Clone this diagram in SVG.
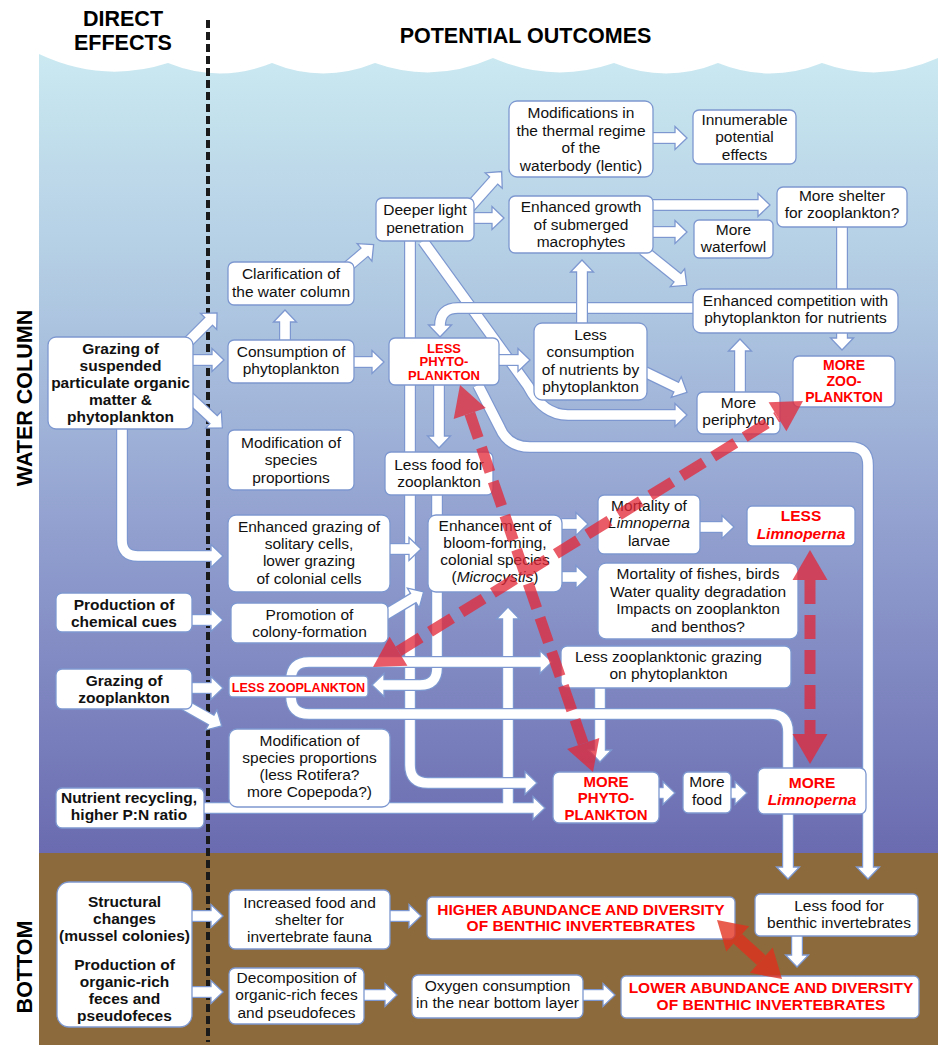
<svg xmlns="http://www.w3.org/2000/svg" width="938" height="1045" viewBox="0 0 938 1045">
<defs>
<linearGradient id="water" x1="0" y1="55" x2="0" y2="853" gradientUnits="userSpaceOnUse">
<stop offset="0" stop-color="#cae9f1"/>
<stop offset="0.3" stop-color="#b0c9e2"/>
<stop offset="0.6" stop-color="#919fcf"/>
<stop offset="1" stop-color="#6a6bb0"/>
</linearGradient>
<marker id="ah" markerUnits="userSpaceOnUse" viewBox="-3 -14 19 28" markerWidth="19" markerHeight="28" refX="2" refY="0" orient="auto">
<path d="M0,-11.5 L12,0 L0,11.5Z" fill="#fff" stroke="#7d98d0" stroke-width="1.3"/>
</marker>
<style>
.bx{fill:#fff;stroke:#7d98d0;stroke-width:1.3}
text{font-family:"Liberation Sans",Arial,sans-serif;font-size:15.5px;text-anchor:middle;fill:#111}
.b{font-weight:bold}
.r{fill:#ff0000;font-weight:bold}
.h{font-weight:bold;font-size:21.5px;fill:#000}
.o{fill:none;stroke:#7d98d0;stroke-width:12;stroke-linejoin:round;marker-end:url(#ah)}
.l{fill:none;stroke:#7d98d0;stroke-width:12;stroke-linejoin:round}
.i{fill:none;stroke:#fff;stroke-width:9.6;stroke-linejoin:round}
</style>
</defs>

<g id="background">
<rect x="0" y="0" width="938" height="1045" fill="#fff"/>
<path d="M39,54 Q103,84 168,63 Q220,84 272,63 Q323,84 375,63 Q434,84 493,58 Q553,84 614,63 Q666,84 718,63 Q770,84 822,63 Q880,84 938,58 V853 H39 Z" fill="url(#water)"/>
<rect x="39" y="853" width="899" height="192" fill="#8c6a3b"/>
<line x1="208" y1="20" x2="208" y2="1042" stroke="#1a1a1a" stroke-width="4" stroke-dasharray="8 4"/>
</g>

<g id="labels">
<text class="h" x="123" y="26">DIRECT</text>
<text class="h" x="123" y="50">EFFECTS</text>
<text class="h" x="525.5" y="43">POTENTIAL OUTCOMES</text>
<text class="h" transform="translate(32,398) rotate(-90)">WATER COLUMN</text>
<text class="h" transform="translate(32,967) rotate(-90)">BOTTOM</text>
</g>

<g id="connectors">
<path class="o" d="M508,808 V617"/>
<path class="o" d="M204,808 H535"/>
<path class="i" d="M508,808 V617"/>
<path class="i" d="M204,808 H535"/>
<path class="o" d="M410,241 V765 Q410,783 428,783 H527"/><path class="i" d="M410,241 V765 Q410,783 428,783 H527"/>
<path class="o" d="M437,495 V668 Q437,685 420,685 H382"/><path class="i" d="M437,495 V668 Q437,685 420,685 H382"/>
<path class="o" d="M478,385 L500,428 Q508,447 530,447 H850 Q868,447 868,465 V869"/><path class="i" d="M478,385 L500,428 Q508,447 530,447 H850 Q868,447 868,465 V869"/>
<path class="o" d="M423,241 L528,386 Q543,415 568,415 H677"/><path class="i" d="M423,241 L528,386 Q543,415 568,415 H677"/>
<path class="o" d="M693,308 H458 Q440,308 440,326 V327"/><path class="i" d="M693,308 H458 Q440,308 440,326 V327"/>
<path class="o" d="M582,323 V270"/><path class="i" d="M582,323 V270"/>
<path class="o" d="M499,360 H520"/><path class="i" d="M499,360 H520"/>
<path class="o" d="M600,688 V752"/><path class="i" d="M600,688 V752"/>
<path class="o" d="M291,690 V680 Q291,662 309,662 H542"/>
<path class="o" d="M291,680 V696 Q291,714 309,714 H770 Q788,714 788,732 V869"/>
<path class="i" d="M291,690 V680 Q291,662 309,662 H542"/>
<path class="i" d="M291,680 V696 Q291,714 309,714 H770 Q788,714 788,732 V869"/>
<path class="o" d="M186,344 L210,320"/><path class="i" d="M186,344 L210,320"/>
<path class="o" d="M193,360 H214"/><path class="i" d="M193,360 H214"/>
<path class="o" d="M188,396 L215,421"/><path class="i" d="M188,396 L215,421"/>
<path class="o" d="M122,429 V540 Q122,556 138,556 H213"/><path class="i" d="M122,429 V540 Q122,556 138,556 H213"/>
<path class="o" d="M285,340 V320"/><path class="i" d="M285,340 V320"/>
<path class="o" d="M346,268 L366,251"/><path class="i" d="M346,268 L366,251"/>
<path class="o" d="M354,362 H374"/><path class="i" d="M354,362 H374"/>
<path class="o" d="M470,207 L495,179"/><path class="i" d="M470,207 L495,179"/>
<path class="o" d="M474,218 H494"/><path class="i" d="M474,218 H494"/>
<path class="o" d="M653,205 H760"/><path class="i" d="M653,205 H760"/>
<path class="o" d="M653,232 H677"/><path class="i" d="M653,232 H677"/>
<path class="o" d="M643,250 L679,279"/><path class="i" d="M643,250 L679,279"/>
<path class="l" d="M842,227 V295"/><path class="i" d="M842,227 V295"/>
<path class="o" d="M842,333 V340"/><path class="i" d="M842,333 V340"/>
<path class="o" d="M740,392 V349"/><path class="i" d="M740,392 V349"/>
<path class="o" d="M645,372 L678,388"/><path class="i" d="M645,372 L678,388"/>
<path class="o" d="M653,138 H677"/><path class="i" d="M653,138 H677"/>
<path class="o" d="M439,385 V438"/><path class="i" d="M439,385 V438"/>
<path class="o" d="M390,549 H411"/><path class="i" d="M390,549 H411"/>
<path class="o" d="M385,615 L415,597"/><path class="i" d="M385,615 L415,597"/>
<path class="o" d="M562,524 H578"/><path class="i" d="M562,524 H578"/>
<path class="o" d="M562,577 H578"/><path class="i" d="M562,577 H578"/>
<path class="o" d="M700,527 H724"/><path class="i" d="M700,527 H724"/>
<path class="o" d="M192,620 H213"/><path class="i" d="M192,620 H213"/>
<path class="o" d="M192,688 H213"/><path class="i" d="M192,688 H213"/>
<path class="o" d="M183,704 L213,721"/><path class="i" d="M183,704 L213,721"/>
<path class="o" d="M659,793 H665"/><path class="i" d="M659,793 H665"/>
<path class="o" d="M731,793 H737"/><path class="i" d="M731,793 H737"/>
<path class="o" d="M192,916 H213"/><path class="i" d="M192,916 H213"/>
<path class="o" d="M192,992 H213"/><path class="i" d="M192,992 H213"/>
<path class="o" d="M390,916 H411"/><path class="i" d="M390,916 H411"/>
<path class="o" d="M364,995 H387"/><path class="i" d="M364,995 H387"/>
<path class="o" d="M583,995 H605"/><path class="i" d="M583,995 H605"/>
<path class="o" d="M797,936 V957"/><path class="i" d="M797,936 V957"/>
</g>

<g id="nodes">
<g id="n-grazing-spm"><rect class="bx" x="48" y="337" width="145" height="92" rx="8"/><text class="b"><tspan x="120.5" y="354">Grazing of</tspan><tspan x="120.5" y="371">suspended</tspan><tspan x="120.5" y="388">particulate organic</tspan><tspan x="120.5" y="405">matter &amp;</tspan><tspan x="120.5" y="422">phytoplankton</tspan></text></g>
<g id="n-chem-cues"><rect class="bx" x="56" y="593" width="136" height="39" rx="6"/><text class="b"><tspan x="124" y="610">Production of</tspan><tspan x="124" y="627">chemical cues</tspan></text></g>
<g id="n-grazing-zoo"><rect class="bx" x="56" y="669" width="136" height="40" rx="6"/><text class="b"><tspan x="124" y="686">Grazing of</tspan><tspan x="124" y="703">zooplankton</tspan></text></g>
<g id="n-nutrient"><rect class="bx" x="56" y="788" width="148" height="40" rx="6"/><text class="b"><tspan x="129" y="803">Nutrient recycling,</tspan><tspan x="129" y="820">higher P:N ratio</tspan></text></g>
<g id="n-structural"><rect class="bx" x="57" y="882" width="135" height="145" rx="12"/><text class="b"><tspan x="124.5" y="907">Structural</tspan><tspan x="124.5" y="924">changes</tspan><tspan x="124.5" y="941">(mussel colonies)</tspan><tspan x="124.5" y="970">Production of</tspan><tspan x="124.5" y="987">organic-rich</tspan><tspan x="124.5" y="1004">feces and</tspan><tspan x="124.5" y="1021">pseudofeces</tspan></text></g>

<g id="n-clarification"><rect class="bx" x="228" y="262" width="126" height="43" rx="6"/><text><tspan x="291" y="279">Clarification of</tspan><tspan x="291" y="297">the water column</tspan></text></g>
<g id="n-consumption"><rect class="bx" x="228" y="340" width="126" height="43" rx="6"/><text><tspan x="291" y="357">Consumption of</tspan><tspan x="291" y="374">phytoplankton</tspan></text></g>
<g id="n-modification"><rect class="bx" x="228" y="430" width="126" height="60" rx="6"/><text><tspan x="291" y="448">Modification of</tspan><tspan x="291" y="465">species</tspan><tspan x="291" y="483">proportions</tspan></text></g>
<g id="n-enh-grazing"><rect class="bx" x="228" y="515" width="162" height="77" rx="8"/><text><tspan x="309" y="532">Enhanced grazing of</tspan><tspan x="309" y="549">solitary cells,</tspan><tspan x="309" y="566">lower grazing</tspan><tspan x="309" y="584">of colonial cells</tspan></text></g>
<g id="n-promotion"><rect class="bx" x="231" y="603" width="157" height="40" rx="6"/><text><tspan x="309.5" y="620">Promotion of</tspan><tspan x="309.5" y="637">colony-formation</tspan></text></g>
<g id="n-less-zoo"><rect class="bx" x="229" y="676" width="139" height="21" rx="4"/><text class="r" x="298.5" y="692" style="font-size:12.6px">LESS ZOOPLANKTON</text></g>
<g id="n-mod-species"><rect class="bx" x="229" y="729" width="161" height="78" rx="8"/><text><tspan x="309.5" y="746">Modification of</tspan><tspan x="309.5" y="763">species proportions</tspan><tspan x="309.5" y="780">(less Rotifera?</tspan><tspan x="309.5" y="797">more Copepoda?)</tspan></text></g>
<g id="n-increased-food"><rect class="bx" x="229" y="890" width="161" height="59" rx="6"/><text><tspan x="309.5" y="908">Increased food and</tspan><tspan x="309.5" y="925">shelter for</tspan><tspan x="309.5" y="942">invertebrate fauna</tspan></text></g>
<g id="n-decomposition"><rect class="bx" x="229" y="968" width="135" height="56" rx="6"/><text><tspan x="296.5" y="983">Decomposition of</tspan><tspan x="296.5" y="1000">organic-rich feces</tspan><tspan x="296.5" y="1018">and pseudofeces</tspan></text></g>

<g id="n-deeper-light"><rect class="bx" x="376" y="198" width="98" height="43" rx="6"/><text><tspan x="425" y="215">Deeper light</tspan><tspan x="425" y="233">penetration</tspan></text></g>
<g id="n-less-phyto"><rect class="bx" x="389" y="338" width="110" height="47" rx="6"/><text class="r" style="font-size:13px"><tspan x="444" y="353">LESS</tspan><tspan x="444" y="366">PHYTO-</tspan><tspan x="444" y="380">PLANKTON</tspan></text></g>
<g id="n-less-food-zoo"><rect class="bx" x="385" y="452" width="108" height="43" rx="6"/><text><tspan x="439" y="470">Less food for</tspan><tspan x="439" y="487">zooplankton</tspan></text></g>
<g id="n-bloom"><rect class="bx" x="428" y="515" width="134" height="77" rx="8"/><text><tspan x="495" y="531">Enhancement of</tspan><tspan x="495" y="548">bloom-forming,</tspan><tspan x="495" y="565">colonial species</tspan><tspan x="495" y="582">(<tspan font-style="italic">Microcystis</tspan>)</tspan></text></g>
<g id="n-less-zoo-grazing"><rect class="bx" x="561" y="646" width="230" height="42" rx="6"/><text><tspan x="668.5" y="662">Less zooplanktonic grazing</tspan><tspan x="668.5" y="679">on phytoplankton</tspan></text></g>
<g id="n-more-phyto"><rect class="bx" x="553" y="772" width="106" height="51" rx="6"/><text class="r" style="font-size:15px"><tspan x="606" y="787">MORE</tspan><tspan x="606" y="803">PHYTO-</tspan><tspan x="606" y="820">PLANKTON</tspan></text></g>
<g id="n-more-food"><rect class="bx" x="683" y="772" width="48" height="41" rx="5"/><text><tspan x="707" y="787">More</tspan><tspan x="707" y="805">food</tspan></text></g>
<g id="n-more-limno"><rect class="bx" x="758" y="768" width="108" height="46" rx="6"/><text class="r"><tspan x="812" y="788">MORE</tspan><tspan x="812" y="805" font-style="italic">Limnoperna</tspan></text></g>

<g id="n-thermal"><rect class="bx" x="509" y="101" width="144" height="76" rx="8"/><text><tspan x="581" y="118">Modifications in</tspan><tspan x="581" y="136">the thermal regime</tspan><tspan x="581" y="153">of the</tspan><tspan x="581" y="171">waterbody (lentic)</tspan></text></g>
<g id="n-innumerable"><rect class="bx" x="693" y="110" width="103" height="54" rx="6"/><text><tspan x="744.5" y="125">Innumerable</tspan><tspan x="744.5" y="142">potential</tspan><tspan x="744.5" y="160">effects</tspan></text></g>
<g id="n-macrophytes"><rect class="bx" x="509" y="196" width="144" height="57" rx="6"/><text><tspan x="581" y="212">Enhanced growth</tspan><tspan x="581" y="230">of submerged</tspan><tspan x="581" y="247">macrophytes</tspan></text></g>
<g id="n-waterfowl"><rect class="bx" x="694" y="220" width="79" height="38" rx="5"/><text><tspan x="733.5" y="235">More</tspan><tspan x="733.5" y="252">waterfowl</tspan></text></g>
<g id="n-shelter"><rect class="bx" x="777" y="187" width="130" height="40" rx="6"/><text><tspan x="842" y="201">More shelter</tspan><tspan x="842" y="218">for zooplankton?</tspan></text></g>
<g id="n-competition"><rect class="bx" x="693" y="289" width="205" height="44" rx="8"/><text><tspan x="795.5" y="306">Enhanced competition with</tspan><tspan x="795.5" y="323">phytoplankton for nutrients</tspan></text></g>
<g id="n-less-consumption"><rect class="bx" x="534" y="323" width="113" height="77" rx="8"/><text><tspan x="590.5" y="340">Less</tspan><tspan x="590.5" y="357">consumption</tspan><tspan x="590.5" y="375">of nutrients by</tspan><tspan x="590.5" y="392">phytoplankton</tspan></text></g>
<g id="n-periphyton"><rect class="bx" x="697" y="392" width="83" height="42" rx="6"/><text><tspan x="738.5" y="408">More</tspan><tspan x="738.5" y="425">periphyton</tspan></text></g>
<g id="n-more-zoo"><rect class="bx" x="793" y="356" width="102" height="51" rx="6"/><text class="r" style="font-size:14px"><tspan x="844" y="370">MORE</tspan><tspan x="844" y="386">ZOO-</tspan><tspan x="844" y="402">PLANKTON</tspan></text></g>
<g id="n-mortality-larvae"><rect class="bx" x="598" y="495" width="102" height="59" rx="6"/><text><tspan x="649" y="511">Mortality of</tspan><tspan x="649" y="528" font-style="italic">Limnoperna</tspan><tspan x="649" y="546">larvae</tspan></text></g>
<g id="n-less-limno"><rect class="bx" x="747" y="506" width="108" height="40" rx="5"/><text class="r"><tspan x="801" y="521">LESS</tspan><tspan x="801" y="539" font-style="italic">Limnoperna</tspan></text></g>
<g id="n-mortality-fish"><rect class="bx" x="598" y="563" width="200" height="76" rx="8"/><text><tspan x="698" y="579">Mortality of fishes, birds</tspan><tspan x="698" y="597">Water quality degradation</tspan><tspan x="698" y="614">Impacts on zooplankton</tspan><tspan x="698" y="632">and benthos?</tspan></text></g>

<g id="n-higher-benthic"><rect class="bx" x="427" y="897" width="308" height="42" rx="5"/><text class="r"><tspan x="581" y="915">HIGHER ABUNDANCE AND DIVERSITY</tspan><tspan x="581" y="931">OF BENTHIC INVERTEBRATES</tspan></text></g>
<g id="n-lower-benthic"><rect class="bx" x="621" y="976" width="298" height="42" rx="5"/><text class="r"><tspan x="771" y="993">LOWER ABUNDANCE AND DIVERSITY</tspan><tspan x="771" y="1010">OF BENTHIC INVERTEBRATES</tspan></text></g>
<g id="n-less-food-benthic"><rect class="bx" x="755" y="894" width="163" height="42" rx="5"/><text><tspan x="839" y="911">Less food for</tspan><tspan x="839" y="928">benthic invertebrates</tspan></text></g>
<g id="n-oxygen"><rect class="bx" x="412" y="975" width="171" height="43" rx="6"/><text><tspan x="497.5" y="991">Oxygen consumption</tspan><tspan x="497.5" y="1008">in the near bottom layer</tspan></text></g>
</g>

<g id="relations">
<g opacity="0.76" fill="#e32838" stroke="#e32838">
<line x1="469.8" y1="413.4" x2="583.2" y2="743.6" stroke-width="11" stroke-dasharray="26 10" fill="none"/>
<polygon points="460,385 485.8,407.9 453.7,418.9" stroke="none"/>
<polygon points="593,772 599.3,738.1 567.1,749.1" stroke="none"/>
<line x1="398.5" y1="651.2" x2="777.5" y2="416.8" stroke-width="11" stroke-dasharray="26 11" fill="none"/>
<polygon points="373,667 407.4,665.7 389.6,636.7" stroke="none"/>
<polygon points="803,401 786.4,431.3 768.6,402.3" stroke="none"/>
<line x1="810" y1="580" x2="810" y2="734" stroke-width="11" stroke-dasharray="24 11" fill="none"/>
<polygon points="810,550 827.5,580 792.5,580" stroke="none"/>
<polygon points="810,764 827.5,734 792.5,734" stroke="none"/>
</g>
<g opacity="0.78" fill="#e3301e">
<line x1="737.7" y1="938.8" x2="761.3" y2="960.2" stroke="#e3301e" stroke-width="13"/>
<polygon points="717,920 749.1,926.2 726.3,951.4"/>
<polygon points="782,979 772.7,947.6 749.9,972.8"/>
</g>
</g>
</svg>
